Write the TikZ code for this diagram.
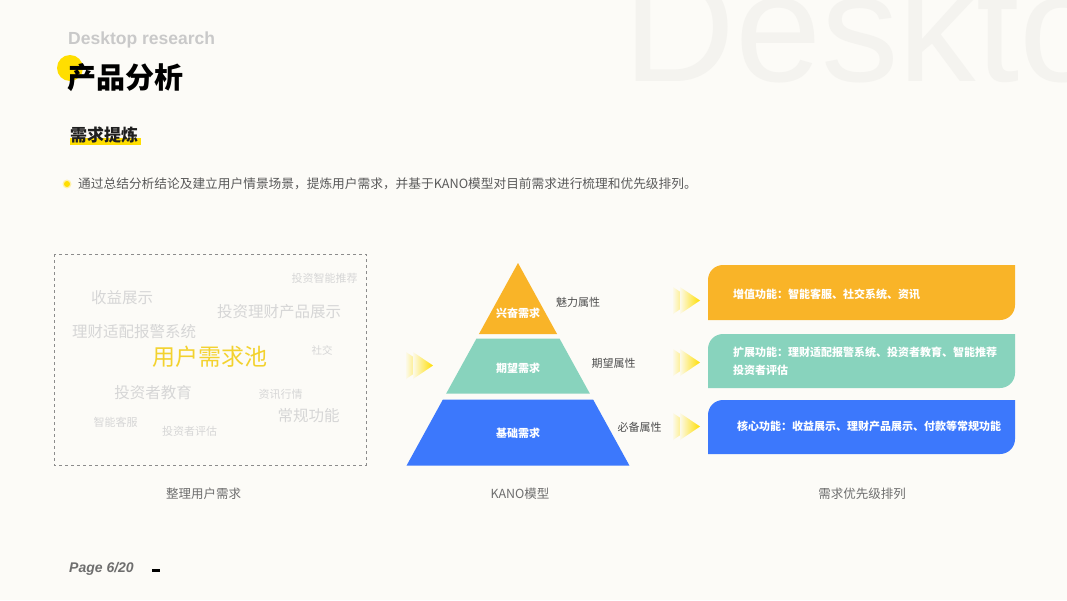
\documentclass[tikz,border=0pt]{standalone}
\usepackage{fontspec}
\setmainfont{Noto Sans CJK SC}
\newfontfamily\latinsans{Liberation Sans}
\usetikzlibrary{positioning}

\definecolor{pagebg}{HTML}{FCFBF7}
\definecolor{watermark}{HTML}{F4F3EF}
\definecolor{headgray}{HTML}{C9C9C9}
\definecolor{bodygray}{HTML}{5A5A5A}
\definecolor{brandyellow}{HTML}{FFDE00}
\definecolor{dotring}{HTML}{FFF1A8}
\definecolor{cloudgray}{HTML}{D6D6D6}
\definecolor{cloudyellow}{HTML}{F3D22E}
\definecolor{framegray}{HTML}{8C8C8C}
\definecolor{attrgray}{HTML}{4E4E4E}
\definecolor{capgray}{HTML}{6E6E6E}
\definecolor{kanoorange}{HTML}{F9B428}
\definecolor{kanoteal}{HTML}{88D3BD}
\definecolor{kanoblue}{HTML}{3C78FC}

\newcommand{\psz}[1]{\fontsize{#1}{#1}\selectfont}

% double chevron: left x, centre y
\newcommand{\dblchev}[2]{%
  \shade[left color=brandyellow!6!pagebg, right color=brandyellow]
    (#1,#2-13.5) -- (#1+20,#2) -- (#1,#2+13.5) -- cycle;
  \shade[left color=brandyellow!6!pagebg, right color=brandyellow]
    (#1+7,#2-13.5) -- (#1+27,#2) -- (#1+7,#2+13.5) -- cycle;}

% feature box: top y, bottom y, colour (rounded top-left and bottom-right)
\newcommand{\featbox}[3]{%
  \fill[#3] (708,#2) -- (708,#1+15) .. controls (708,#1+6.7) and (714.7,#1) .. (723,#1)
    -- (1015,#1) -- (1015,#2-15) .. controls (1015,#2-6.7) and (1008.3,#2) .. (1000,#2) -- cycle;}

\tikzset{
  cloudword/.style={text=cloudgray, inner sep=0pt},
  layerlabel/.style={text=white, inner sep=0pt, font=\bfseries\psz{11}},
  attrlabel/.style={text=attrgray, inner sep=0pt, font=\psz{11}},
  caption/.style={text=capgray, inner sep=0pt, font=\psz{12.5}},
  boxtext/.style={text=white, anchor=west, inner sep=0pt, font=\bfseries\psz{11}}
}

\begin{document}
\begin{tikzpicture}[x=1pt,y=-1pt]
  \useasboundingbox (0,0) rectangle (1067,600);
  \fill[pagebg] (0,0) rectangle (1067,600);

  % header
  \node[anchor=base west, inner sep=0pt, text=watermark, font=\latinsans\psz{155}] (mark) at (623,81) {Desktop};
  \fill[brandyellow] (70,68) circle (13);
  \node[anchor=west, inner sep=0pt, text=headgray, font=\latinsans\bfseries\psz{17.5}] (eng) at (68,40) {Desktop research};
  \node[anchor=west, inner sep=0pt, font=\bfseries\psz{29}] (title) at (67,78) {产品分析};
  \fill[brandyellow] (70,138) rectangle (141,144.5);
  \node[anchor=west, inner sep=0pt, text=black!88, font=\bfseries\psz{17}] (section) at (70,135) {需求提炼};
  \fill[dotring] (67,184) circle (4.5);
  \fill[brandyellow] (67,184) circle (3);
  \node[anchor=west, inner sep=0pt, text=bodygray, font=\psz{12.7}] (intro) at (78,184)
    {通过总结分析结论及建立用户情景场景，提炼用户需求，并基于KANO模型对目前需求进行梳理和优先级排列。};

  % user demand pool
  \draw[framegray, dashed] (54,254) rectangle (366,465);
  \node[cloudword, font=\psz{11}] (w1) at (324.5,278) {投资智能推荐};
  \node[cloudword, font=\psz{15.5}] (w2) at (122,298) {收益展示};
  \node[cloudword, font=\psz{15.5}] (w3) at (279,312) {投资理财产品展示};
  \node[cloudword, font=\psz{15.5}] (w4) at (134,332) {理财适配报警系统};
  \node[text=cloudyellow, inner sep=0pt, font=\psz{23}] (pool) at (210,357) {用户需求池};
  \node[cloudword, font=\psz{10.5}] (w5) at (322,350) {社交};
  \node[cloudword, font=\psz{15.5}] (w6) at (153,393) {投资者教育};
  \node[cloudword, font=\psz{11}] (w7) at (280.5,394) {资讯行情};
  \node[cloudword, font=\psz{15.5}] (w8) at (308.5,416) {常规功能};
  \node[cloudword, font=\psz{11}] (w9) at (115.5,422) {智能客服};
  \node[cloudword, font=\psz{11}] (w10) at (189.5,431) {投资者评估};

  % KANO pyramid
  \fill[kanoorange] (518,263) -- (557.05,334) -- (478.95,334) -- cycle;
  \fill[kanoteal] (476.5,338.5) -- (559.5,338.5) -- (589.8,393.5) -- (446.2,393.5) -- cycle;
  \fill[kanoblue] (442.9,399.5) -- (593.1,399.5) -- (629.4,465.5) -- (406.6,465.5) -- cycle;
  \node[layerlabel] (excite) at (518,313) {兴奋需求};
  \node[layerlabel] (expect) at (518,368) {期望需求};
  \node[layerlabel] (basic) at (518,433) {基础需求};
  \node[attrlabel] (attr1) at (578,302) {魅力属性};
  \node[attrlabel] (attr2) at (613.5,363) {期望属性};
  \node[attrlabel] (attr3) at (639.5,427) {必备属性};

  \dblchev{406}{365.5}
  \dblchev{673}{300.5}
  \dblchev{673}{362.5}
  \dblchev{673}{426.5}

  % priority boxes
  \featbox{265}{320}{kanoorange}
  \featbox{334}{388}{kanoteal}
  \featbox{400}{454}{kanoblue}
  \node[boxtext] (value) at (733,294) {增值功能：智能客服、社交系统、资讯};
  \node[boxtext] (extend) at (733,352) {扩展功能：理财适配报警系统、投资者教育、智能推荐};
  \node[boxtext, below=13pt of extend.south west, anchor=west] (extend2) {投资者评估};
  \node[boxtext] (core) at (737,426) {核心功能：收益展示、理财产品展示、付款等常规功能};

  % captions
  \node[caption] (cap1) at (203.5,494) {整理用户需求};
  \node[caption] (cap2) at (520,494) {KANO模型};
  \node[caption] (cap3) at (862,494) {需求优先级排列};

  % footer
  \node[anchor=west, inner sep=0pt, text=capgray, font=\latinsans\bfseries\itshape\psz{14}] (page) at (69,569) {Page 6/20};
  \fill[black] (152,568.5) rectangle (160,572);
\end{tikzpicture}
\end{document}
